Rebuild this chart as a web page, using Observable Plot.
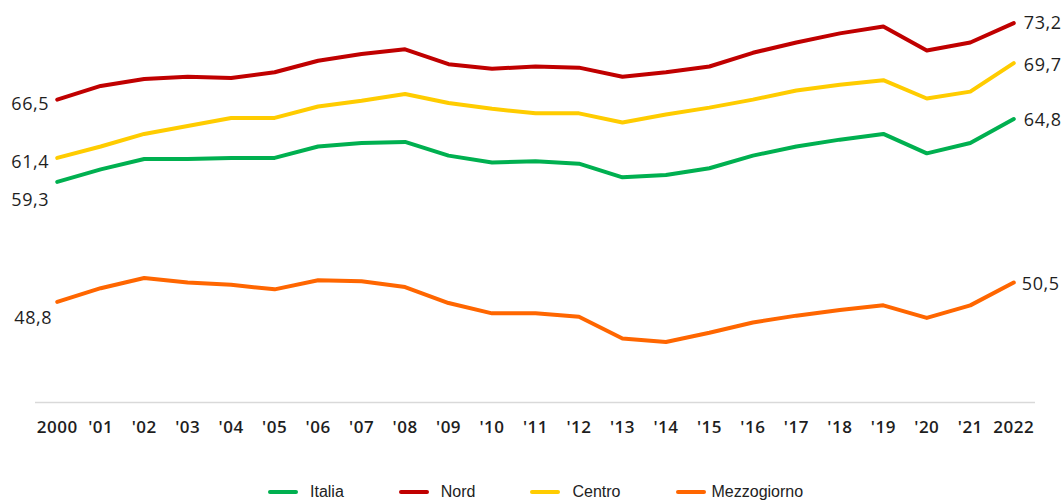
<!DOCTYPE html>
<html>
<head>
<meta charset="utf-8">
<script src="https://cdn.jsdelivr.net/npm/d3@7"></script>
<script src="https://cdn.jsdelivr.net/npm/@observablehq/plot@0.6"></script>
<style>
  body { margin: 0; background: #fff; width: 1063px; height: 500px; overflow: hidden; font-family: "Open Sans", sans-serif; }
  #legend { display: flex; align-items: center; margin-top: 32px; height: 20px; margin-left: 268px; font-size: 16px; color: #222; font-family: "Liberation Sans", "Open Sans", sans-serif; }
  .item { display: flex; align-items: center; margin-right: 55px; }
  .sw { width: 30px; height: 4px; border-radius: 2px; margin-right: 12px; }
</style>
</head>
<body>
<div id="chart"></div>
<div id="legend"></div>
<script>
const years = [2000, 2001, 2002, 2003, 2004, 2005, 2006, 2007, 2008, 2009, 2010, 2011,
               2012, 2013, 2014, 2015, 2016, 2017, 2018, 2019, 2020, 2021, 2022];
const tickLabels = ["2000", "'01", "'02", "'03", "'04", "'05", "'06", "'07", "'08", "'09", "'10", "'11",
                    "'12", "'13", "'14", "'15", "'16", "'17", "'18", "'19", "'20", "'21", "2022"];
const seriesNames = ["Italia", "Nord", "Centro", "Mezzogiorno"];
const seriesColors = ["#00B050", "#C00000", "#FFCC00", "#FF6600"];

const italia      = [59.3, 60.4, 61.3, 61.3, 61.4, 61.4, 62.4, 62.7, 62.8, 61.6, 61.0, 61.1,
                     60.9, 59.7, 59.9, 60.5, 61.6, 62.4, 63.0, 63.5, 61.8, 62.7, 64.8];
const nord        = [66.5, 67.7, 68.3, 68.5, 68.4, 68.9, 69.9, 70.5, 70.9, 69.6, 69.2, 69.4,
                     69.3, 68.5, 68.9, 69.4, 70.6, 71.5, 72.3, 72.9, 70.8, 71.5, 73.2];
const centro      = [61.4, 62.4, 63.5, 64.2, 64.9, 64.9, 65.9, 66.4, 67.0, 66.2, 65.7, 65.3,
                     65.3, 64.5, 65.2, 65.8, 66.5, 67.3, 67.8, 68.2, 66.6, 67.2, 69.7];
const mezzogiorno = [48.8, 50.0, 50.9, 50.5, 50.3, 49.9, 50.7, 50.6, 50.1, 48.7, 47.8, 47.8,
                     47.5, 45.6, 45.3, 46.1, 47.0, 47.6, 48.1, 48.5, 47.4, 48.5, 50.5];

const seriesValues = [italia, nord, centro, mezzogiorno];
const rows = [];
seriesNames.forEach((name, s) => {
  years.forEach((year, i) => rows.push({series: name, year, value: seriesValues[s][i]}));
});

const fmt = v => v.toFixed(1).replace(".", ",");
const first = name => rows.filter(d => d.series === name && d.year === years[0]);
const last = name => rows.filter(d => d.series === name && d.year === years[years.length - 1]);

const labelStyle = {x: "year", y: "value", text: d => fmt(d.value), fontSize: 18, fill: "#1e1e1e", fontFamily: "Open Sans"};

const plot = Plot.plot({
  width: 1063,
  height: 450,
  marginLeft: 35,
  marginRight: 28,
  marginTop: 2,
  marginBottom: 48,
  x: {type: "point", domain: years, padding: 0.5, round: false, label: null, tickSize: 0, tickPadding: 18,
      tickFormat: d => tickLabels[years.indexOf(d)]},
  y: {domain: [40, 75], axis: null},
  color: {domain: seriesNames, range: seriesColors},
  style: {fontFamily: "Open Sans", fontSize: "17px", color: "#1e1e1e", background: "#fff"},
  marks: [
    Plot.ruleY([40], {stroke: "#d9d9d9", strokeWidth: 1.5}),
    Plot.line(rows, {x: "year", y: "value", z: "series", stroke: "series", strokeWidth: 4, strokeLinejoin: "round", strokeLinecap: "round", curve: "linear"}),
    // left labels
    Plot.text(first("Nord"), {...labelStyle, textAnchor: "end", dx: -8, dy: 5}),
    Plot.text(first("Centro"), {...labelStyle, textAnchor: "end", dx: -8, dy: 4}),
    Plot.text(first("Italia"), {...labelStyle, textAnchor: "end", dx: -8, dy: 18}),
    Plot.text(first("Mezzogiorno"), {...labelStyle, textAnchor: "end", dx: -5, dy: 16}),
    // right labels
    Plot.text(last("Nord"), {...labelStyle, textAnchor: "start", dx: 10, dy: 0}),
    Plot.text(last("Centro"), {...labelStyle, textAnchor: "start", dx: 10, dy: 2}),
    Plot.text(last("Italia"), {...labelStyle, textAnchor: "start", dx: 10, dy: 1}),
    Plot.text(last("Mezzogiorno"), {...labelStyle, textAnchor: "start", dx: 8, dy: 2})
  ]
});
plot.querySelectorAll("g[aria-label='x-axis tick label']").forEach(g => {
  g.setAttribute("font-weight", "600");
  g.setAttribute("letter-spacing", "0.5");
});
plot.querySelectorAll("g[aria-label='text']").forEach(g => {
  g.setAttribute("letter-spacing", "0.6");
});
document.getElementById("chart").appendChild(plot);

const legend = document.getElementById("legend");
seriesNames.forEach((name, i) => {
  const item = document.createElement("div");
  item.className = "item";
  const sw = document.createElement("div");
  sw.className = "sw";
  sw.style.background = seriesColors[i];
  if (name === "Mezzogiorno") sw.style.marginRight = "6px";
  const t = document.createElement("span");
  t.textContent = name;
  item.appendChild(sw);
  item.appendChild(t);
  legend.appendChild(item);
});
</script>
</body>
</html>
